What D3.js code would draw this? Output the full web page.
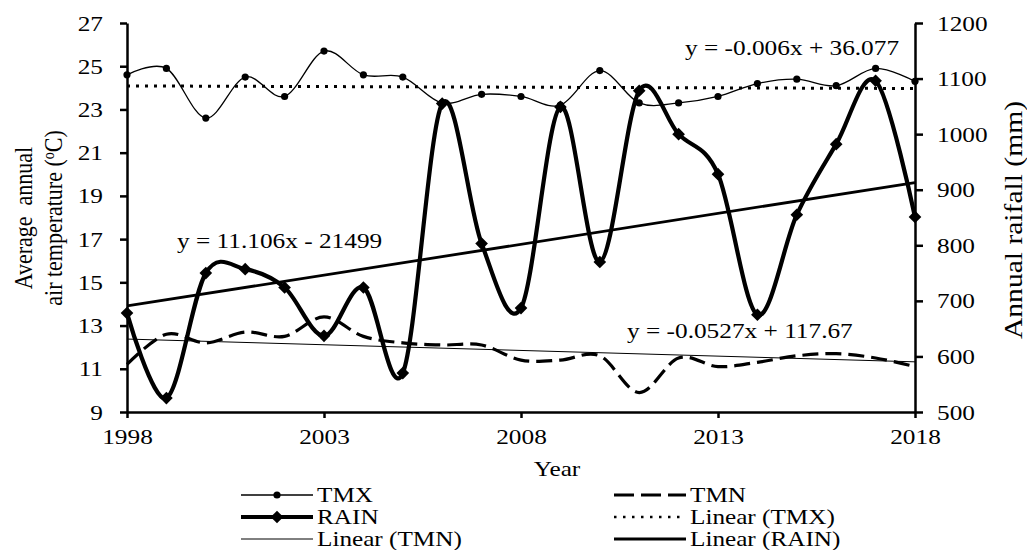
<!DOCTYPE html>
<html>
<head>
<meta charset="utf-8">
<script src="https://cdn.jsdelivr.net/npm/d3@7"></script>
<style>
  html, body { margin: 0; padding: 0; background: #fff; }
  svg { display: block; }
  text { font-family: "Liberation Serif", "Times New Roman", serif; fill: #000; }
</style>
</head>
<body>
<svg id="chart" width="1027" height="550"></svg>
<script>
// Annual climate series, 1998-2018
const years = [1998, 1999, 2000, 2001, 2002, 2003, 2004, 2005, 2006, 2007, 2008,
               2009, 2010, 2011, 2012, 2013, 2014, 2015, 2016, 2017, 2018];
const tmx  = [24.6, 24.9, 22.6, 24.5, 23.6, 25.7, 24.6, 24.5, 23.3, 23.7, 23.6,
              23.2, 24.8, 23.3, 23.3, 23.6, 24.2, 24.4, 24.1, 24.9, 24.3];
const tmn  = [11.2, 12.6, 12.2, 12.7, 12.5, 13.4, 12.5, 12.2, 12.1, 12.1, 11.4,
              11.4, 11.6, 9.9, 11.5, 11.1, 11.3, 11.6, 11.7, 11.5, 11.1];
const rain = [678, 525, 750, 757, 724, 637, 724, 570, 1055, 803, 687,
              1049, 770, 1078, 1000, 928, 675, 855, 982, 1096, 851];

// Linear trend coefficients (slope, intercept) as printed on the chart
const trendTMX  = [-0.006, 36.077];
const trendTMN  = [-0.0527, 117.67];
const trendRAIN = [11.106, -21499];

const xTicks    = [1998, 2003, 2008, 2013, 2018];
const tempTicks = [9, 11, 13, 15, 17, 19, 21, 23, 25, 27];
const rainTicks = [500, 600, 700, 800, 900, 1000, 1100, 1200];

const STRETCH = 1.15;   // horizontal widening of the serif lettering
const FS = 22;

const svg = d3.select("#chart");
const plotL = 127, plotR = 915, plotT = 23, plotB = 412;

const x  = d3.scaleLinear().domain([1998, 2018]).range([plotL, plotR]);
const yT = d3.scaleLinear().domain([9, 27]).range([plotB, plotT]);
const yR = d3.scaleLinear().domain([500, 1200]).range([plotB, plotT]);

function widen(sel, k = STRETCH) {
  sel.each(function () {
    const w = this.getComputedTextLength();
    d3.select(this).attr("textLength", w * k).attr("lengthAdjust", "spacingAndGlyphs");
  });
}

// ---- axes ----
function styleAxis(g) {
  g.select(".domain").attr("stroke", "#000").attr("stroke-width", 2.5);
  g.selectAll(".tick line").attr("stroke", "#000").attr("stroke-width", 2.5);
  g.selectAll(".tick text").attr("font-size", FS).attr("font-family", "Liberation Serif").attr("fill", "#000");
}

const gL = svg.append("g").attr("transform", `translate(${plotL},0)`)
  .call(d3.axisLeft(yT).tickValues(tempTicks).tickFormat(d3.format("d"))
    .tickSize(7).tickSizeOuter(0).tickPadding(17))
  .call(styleAxis);
const gR = svg.append("g").attr("transform", `translate(${plotR},0)`)
  .call(d3.axisRight(yR).tickValues(rainTicks).tickFormat(d3.format("d"))
    .tickSize(8).tickSizeOuter(0).tickPadding(14))
  .call(styleAxis);
const gB = svg.append("g").attr("transform", `translate(0,${plotB})`)
  .call(d3.axisBottom(x).tickValues(xTicks).tickFormat(d3.format("d")).tickSize(6).tickSizeOuter(0))
  .call(styleAxis);
gB.selectAll(".tick text").attr("y", 32).attr("dy", null);

[gL, gR, gB].forEach(g => g.selectAll(".tick text").call(widen));

// ---- trend lines ----
function trendLine(coef, yScale) {
  return d3.line().x(d => x(d)).y(d => yScale(coef[0] * d + coef[1]))([1998, 2018]);
}

// ---- series ----
const smooth = d3.curveCatmullRom.alpha(0);
const lineT = d3.line().curve(smooth).x((d, i) => x(years[i]));

const plot = svg.append("g");

// TMX
plot.append("path")
  .attr("d", lineT.y(d => yT(d))(tmx))
  .attr("fill", "none").attr("stroke", "#000").attr("stroke-width", 1.3);
plot.selectAll(".tmx").data(tmx).join("circle")
  .attr("cx", (d, i) => x(years[i])).attr("cy", d => yT(d)).attr("r", 3.6).attr("fill", "#000");

// TMN
plot.append("path")
  .attr("d", lineT.y(d => yT(d))(tmn))
  .attr("fill", "none").attr("stroke", "#000").attr("stroke-width", 3.2)
  .attr("stroke-dasharray", "16,7");

// Trend lines for temperature
plot.append("path").attr("d", trendLine(trendTMX, yT))
  .attr("stroke", "#000").attr("stroke-width", 3).attr("stroke-dasharray", "3,6").attr("fill", "none");
plot.append("path").attr("d", trendLine(trendTMN, yT))
  .attr("stroke", "#000").attr("stroke-width", 1).attr("fill", "none");

// RAIN
plot.append("path")
  .attr("d", lineT.y(d => yR(d))(rain))
  .attr("fill", "none").attr("stroke", "#000").attr("stroke-width", 4.2);
const diamond = d3.symbol().type(d3.symbolSquare).size(80);
plot.selectAll(".rain").data(rain).join("path")
  .attr("d", diamond)
  .attr("transform", (d, i) => `translate(${x(years[i])},${yR(d)}) rotate(45)`)
  .attr("fill", "#000");

plot.append("path").attr("d", trendLine(trendRAIN, yR))
  .attr("stroke", "#000").attr("stroke-width", 2.8).attr("fill", "none");

// ---- trend equations ----
function eqText(coef) {
  const s = coef[1] < 0 ? " - " + Math.abs(coef[1]) : " + " + coef[1];
  return "y = " + coef[0] + "x" + s;
}
svg.append("text").attr("x", 685).attr("y", 55).attr("font-size", FS).text(eqText(trendTMX)).call(widen);
svg.append("text").attr("x", 177).attr("y", 248).attr("font-size", FS).text(eqText(trendRAIN)).call(widen);
svg.append("text").attr("x", 627).attr("y", 338).attr("font-size", FS).text(eqText(trendTMN)).call(widen);

// ---- axis titles ----
svg.append("text").attr("font-size", FS).attr("text-anchor", "middle")
  .attr("transform", `translate(32,218) scale(${STRETCH},1) rotate(-90)`)
  .attr("xml:space", "preserve")
  .text("Average  annual");
const t2 = svg.append("text").attr("font-size", FS).attr("text-anchor", "middle")
  .attr("transform", `translate(62,218) scale(${STRETCH},1) rotate(-90)`);
t2.append("tspan").text("air temperature (");
t2.append("tspan").attr("font-size", 14).attr("dy", -7).text("o");
t2.append("tspan").attr("dy", 7).text("C)");

svg.append("text").attr("font-size", FS).attr("text-anchor", "middle")
  .attr("transform", `translate(1022,220) scale(${STRETCH},1) rotate(-90)`)
  .attr("textLength", 238).attr("lengthAdjust", "spacingAndGlyphs")
  .text("Annual raifall (mm)");

svg.append("text").attr("x", 557).attr("y", 476).attr("font-size", FS)
  .attr("text-anchor", "middle").text("Year").call(widen);

// ---- legend ----
const legendItems = [
  { name: "TMX",           col: 0, row: 0, w: 1.3, dash: null,   marker: "circle" },
  { name: "TMN",           col: 1, row: 0, w: 3.2, dash: "20,7", marker: null },
  { name: "RAIN",          col: 0, row: 1, w: 4.2, dash: null,   marker: "diamond" },
  { name: "Linear (TMX)",  col: 1, row: 1, w: 2.5, dash: "2.5,6.5", marker: null },
  { name: "Linear (TMN)",  col: 0, row: 2, w: 1,   dash: null,   marker: null },
  { name: "Linear (RAIN)", col: 1, row: 2, w: 2.8, dash: null,   marker: null }
];
const colX = [241, 614], rowY = [495, 517, 539], sampleW = 72, LFS = 21;
const lg = svg.append("g");
legendItems.forEach(it => {
  const x0 = colX[it.col], yy = rowY[it.row];
  lg.append("line").attr("x1", x0).attr("x2", x0 + sampleW).attr("y1", yy).attr("y2", yy)
    .attr("stroke", "#000").attr("stroke-width", it.w)
    .attr("stroke-dasharray", it.dash);
  if (it.marker === "circle") {
    lg.append("circle").attr("cx", x0 + sampleW / 2).attr("cy", yy).attr("r", 3.6).attr("fill", "#000");
  } else if (it.marker === "diamond") {
    lg.append("path").attr("d", diamond)
      .attr("transform", `translate(${x0 + sampleW / 2},${yy}) rotate(45)`).attr("fill", "#000");
  }
  lg.append("text").attr("x", x0 + sampleW + 4).attr("y", yy + 7).attr("font-size", LFS)
    .text(it.name).call(widen, 1.2);
});
</script>
</body>
</html>
